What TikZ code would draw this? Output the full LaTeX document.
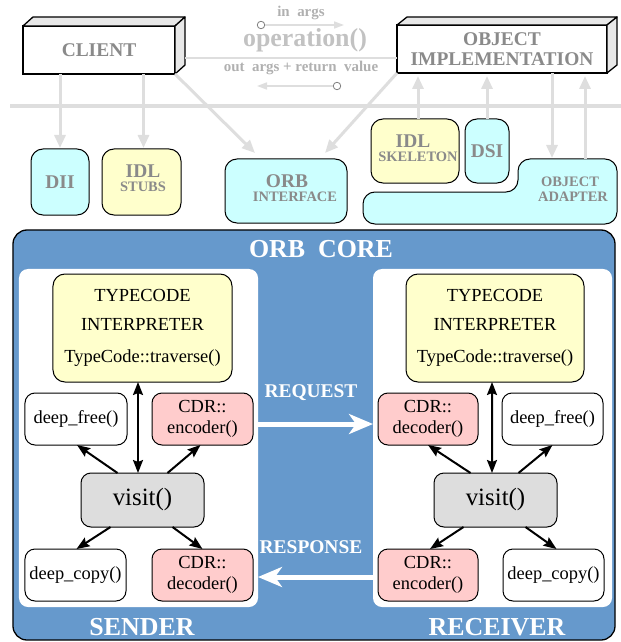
\documentclass[tikz,border=0pt]{standalone}
\usepackage{fontspec}
\setmainfont{Liberation Serif}
\usetikzlibrary{arrows.meta,calc}

\definecolor{corebg}{HTML}{6699CC}
\definecolor{idlyellow}{HTML}{FFFFCC}
\definecolor{orbcyan}{HTML}{CCFFFF}
\definecolor{cdrpink}{HTML}{FFCCCC}
\definecolor{visitgray}{HTML}{DDDDDD}
\definecolor{labelgray}{HTML}{8A8A8A}
\definecolor{opgray}{HTML}{C2C2C2}
\definecolor{argsgray}{HTML}{B0B0B0}
\definecolor{wire}{HTML}{DEDEDE}
\definecolor{facegray}{HTML}{E8E8E8}

\newcommand\setfs[2]{\fontsize{#1}{#2}\selectfont}

\begin{document}
\begin{tikzpicture}[x=1bp,y=-1bp,
  every node/.style={inner sep=0pt, outer sep=0pt},
  front/.style={draw=black, line width=1.3bp, fill=white, align=center,
    text=labelgray, font={\bfseries\setfs{19.5}{20}}},
  face/.style={draw=black, line width=1.3bp, fill=facegray, line join=round},
  obox/.style={draw=black, line width=1bp, rounded corners=12bp},
  cyanbox/.style={obox, fill=orbcyan},
  yellowbox/.style={obox, fill=idlyellow},
  biglabel/.style={text=labelgray, font={\bfseries\setfs{19.5}{20}}},
  smalllabel/.style={text=labelgray, font={\bfseries\setfs{14.5}{16}}},
  wirearrow/.style={draw=wire, line width=3bp, -{Triangle[width=11bp,length=13bp]}},
  thinwire/.style={draw=wire, line width=1.6bp, -{Triangle[width=7bp,length=10bp]}},
  circ/.style={circle, draw=gray, line width=0.8bp, fill=white, minimum size=7.5bp},
  fnbox/.style={draw=black, line width=1bp, rounded corners=10bp, align=center,
    font={\setfs{18.5}{21}}},
  call/.style={line width=2bp, -{Stealth[length=13bp,width=10bp,inset=2bp]}},
  callboth/.style={line width=2bp,
    {Stealth[length=13bp,width=10bp,inset=2bp]}-{Stealth[length=13bp,width=10bp,inset=2bp]}},
  flow/.style={draw=white, line width=5bp, -{Stealth[length=24bp,width=20bp,inset=7bp]}},
  corelabel/.style={text=white, font={\bfseries\setfs{26}{28}}},
  msglabel/.style={text=white, font={\bfseries\setfs{19.5}{20}}}
]
\useasboundingbox (0,0) rectangle (621,642);

% ---------- client and object implementation (3D blocks) ----------
\node[front, minimum width=152bp, minimum height=48bp] (client) at (99,50) {CLIENT};
\draw[face] (client.north west) -- ($(client.north west)+(10,-9)$)
  -- ($(client.north east)+(10,-9)$) -- (client.north east) -- cycle;
\draw[face] (client.north east) -- ($(client.north east)+(10,-9)$)
  -- ($(client.south east)+(10,-9)$) -- (client.south east) -- cycle;

\node[front, minimum width=210bp, minimum height=48bp] (objimpl) at (502,49)
  {OBJECT\\IMPLEMENTATION};
\draw[face] (objimpl.north west) -- ($(objimpl.north west)+(10,-8)$)
  -- ($(objimpl.north east)+(10,-8)$) -- (objimpl.north east) -- cycle;
\draw[face] (objimpl.north east) -- ($(objimpl.north east)+(10,-8)$)
  -- ($(objimpl.south east)+(10,-8)$) -- (objimpl.south east) -- cycle;

% ---------- operation invocation ----------
\draw[wire, line width=2bp] ($(client.east)+(10,8)$) -- (objimpl.west |- 0,58);
\node[text=argsgray, font={\bfseries\setfs{15}{16}}] (inargs) at (301,13) {in~~args};
\node[text=opgray, font={\bfseries\setfs{26}{28}}] (op) at (305,40) {operation()};
\node[text=argsgray, font={\bfseries\setfs{15}{16}}] (outargs) at (301,68)
  {out~~args + return~~value};
\node[circ] (inA) at (261,25) {};
\coordinate (inEnd) at (344,25);
\draw[thinwire] (inA.east) -- (inEnd);
\node[circ] (outA) at (337,86) {};
\coordinate (outEnd) at (257,86);
\draw[thinwire] (outA.west) -- (outEnd);

% ORB boundary
\draw[wire, line width=4bp] (10,106) -- (621,106);

% ---------- ORB interfaces ----------
\node[cyanbox, minimum width=58bp, minimum height=66bp, biglabel] (dii) at (60,182) {DII};
\node[yellowbox, minimum width=79bp, minimum height=66bp] (stubs) at (141.5,182) {};
\node[biglabel] (stubsA) at (143,171) {IDL};
\node[smalllabel] (stubsB) at (143,187) {STUBS};

\node[cyanbox, minimum width=122bp, minimum height=64bp] (orbif) at (286,191) {};
\node[biglabel] (orbifA) at (287,181) {ORB};
\node[smalllabel] (orbifB) at (295,197) {INTERFACE};

\node[yellowbox, minimum width=88bp, minimum height=64bp] (skel) at (415,151) {};
\node[biglabel] (skelA) at (413,141) {IDL};
\node[smalllabel] (skelB) at (418,157) {SKELETON};

\node[cyanbox, minimum width=44bp, minimum height=64bp, biglabel] (dsi) at (487,151) {DSI};

% object adapter (L-shaped)
\draw[draw=black, line width=1bp, fill=orbcyan, rounded corners=12bp]
  (440,224) -- (363,224) -- (363,192) -- (518,192) [sharp corners] -- (518,176)
  [rounded corners=12bp] -- (518,159) -- (617,159) -- (617,224) -- cycle;
\node[smalllabel] (adaptA) at (570,182) {OBJECT};
\node[smalllabel] (adaptB) at (573,197) {ADAPTER};
\coordinate (oaIn) at (552,158);
\coordinate (oaOut) at (585,159);

% ---------- request paths through the ORB ----------
\draw[wirearrow] (dii.north |- client.south) -- ([yshift=1bp]dii.north);
\draw[wirearrow] ([xshift=2bp]stubs.north |- client.south) -- ([xshift=2bp,yshift=1bp]stubs.north);
\draw[wirearrow] (client.south east) -- ($(orbif.north west)+(30,-6)$);
\draw[wirearrow] (objimpl.south west) -- ($(orbif.north east)+(-22,-6)$);
\draw[wirearrow] ([xshift=3bp]skel.north) -- ([xshift=3bp,yshift=-3bp]skel.north |- objimpl.south);
\draw[wirearrow] (dsi.north) -- ([yshift=-3bp]dsi.north |- objimpl.south);
\draw[wirearrow] (oaIn |- objimpl.south) -- (oaIn);
\draw[wirearrow] (oaOut) -- ([yshift=-3bp]oaOut |- objimpl.south);

% ---------- ORB core ----------
\node[draw=black, line width=1.3bp, fill=corebg, rounded corners=14bp,
  minimum width=602bp, minimum height=410bp] (core) at (314,435) {};
\node[corelabel] (coreT) at (321,249) {ORB~~CORE};

\node[fill=white, rounded corners=9bp, minimum width=239bp, minimum height=338bp]
  (lpanel) at (138.5,438) {};
\node[fill=white, rounded corners=9bp, minimum width=239bp, minimum height=338bp]
  (rpanel) at (492.5,438) {};

\node[corelabel] (sender) at (142,627) {SENDER};
\node[corelabel] (receiver) at (497,627) {RECEIVER};

% sender side
\node[fnbox, fill=idlyellow, rounded corners=12bp, minimum width=179bp, minimum height=108bp,
  font={\setfs{18.5}{29}}] (tc1) at (142.5,328)
  {TYPECODE\\INTERPRETER\\[3bp]TypeCode::traverse()};
\node[fnbox, fill=white, minimum width=102bp, minimum height=52bp] (free1) at (76,419) {deep\_free()};
\node[fnbox, fill=cdrpink, minimum width=101bp, minimum height=52bp] (enc1) at (202.5,419) {CDR::\\encoder()};
\node[fnbox, fill=visitgray, minimum width=123bp, minimum height=54bp,
  font={\setfs{25}{27}}] (visit1) at (142.5,500) {visit()};
\node[fnbox, fill=white, minimum width=101bp, minimum height=52bp] (copy1) at (75.5,575) {deep\_copy()};
\node[fnbox, fill=cdrpink, minimum width=101bp, minimum height=52bp] (dec1) at (202.5,575) {CDR::\\decoder()};

\draw[callboth] ([xshift=-4.5bp]visit1.north) -- ([xshift=-4.5bp]tc1.south);
\draw[call] ([xshift=-25bp]visit1.north) -- ([xshift=1bp]free1.south);
\draw[call] ([xshift=25bp]visit1.north) -- ([xshift=-2bp]enc1.south);
\draw[call] ([xshift=-32bp]visit1.south) -- ([xshift=1bp]copy1.north);
\draw[call] ([xshift=30bp]visit1.south) -- (dec1.north);

% receiver side
\node[fnbox, fill=idlyellow, rounded corners=12bp, minimum width=178bp, minimum height=108bp,
  font={\setfs{18.5}{29}}] (tc2) at (495,328)
  {TYPECODE\\INTERPRETER\\[3bp]TypeCode::traverse()};
\node[fnbox, fill=cdrpink, minimum width=100bp, minimum height=52bp] (dec2) at (428,419) {CDR::\\decoder()};
\node[fnbox, fill=white, minimum width=101bp, minimum height=52bp] (free2) at (552.5,419) {deep\_free()};
\node[fnbox, fill=visitgray, minimum width=123bp, minimum height=54bp,
  font={\setfs{25}{27}}] (visit2) at (495.5,500) {visit()};
\node[fnbox, fill=cdrpink, minimum width=100bp, minimum height=52bp] (enc2) at (428,575) {CDR::\\encoder()};
\node[fnbox, fill=white, minimum width=101bp, minimum height=52bp] (copy2) at (553.5,575) {deep\_copy()};

\draw[callboth] ([xshift=-3.5bp]visit2.north) -- ([xshift=-3bp]tc2.south);
\draw[call] ([xshift=-25bp]visit2.north) -- (dec2.south);
\draw[call] ([xshift=23bp]visit2.north) -- (free2.south);
\draw[call] ([xshift=-32bp]visit2.south) -- ([xshift=2bp]enc2.north);
\draw[call] ([xshift=30bp]visit2.south) -- ([xshift=3bp]copy2.north);

% request / response between the two sides
\coordinate (reqy) at (0,424);
\coordinate (resy) at (0,577);
\draw[flow] (lpanel.east |- reqy) -- (rpanel.west |- reqy);
\draw[flow] (rpanel.west |- resy) -- (lpanel.east |- resy);
\node[msglabel] (reqT) at (311,393) {REQUEST};
\node[msglabel] (resT) at (311,547) {RESPONSE};
\end{tikzpicture}
\end{document}
